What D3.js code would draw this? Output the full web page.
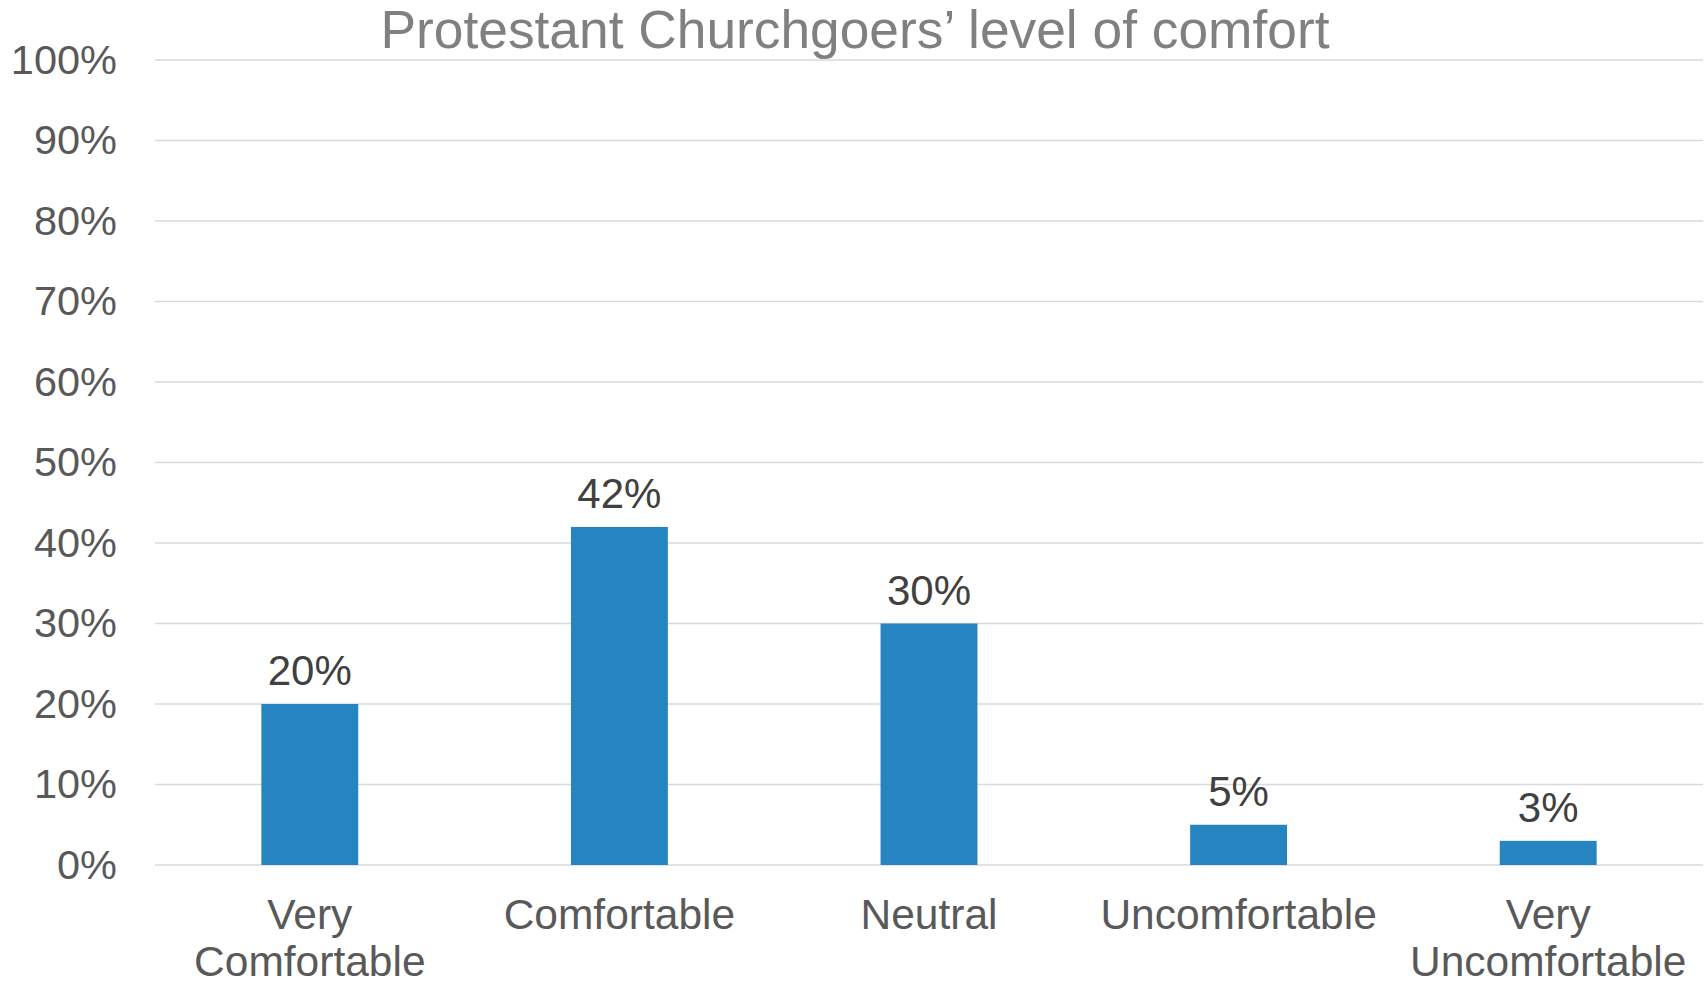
<!DOCTYPE html>
<html>
<head>
<meta charset="utf-8">
<script src="https://cdn.jsdelivr.net/npm/d3@7"></script>
<style>
  html, body { margin: 0; padding: 0; background: #fff; }
  svg { display: block; font-family: "Liberation Sans", Arial, sans-serif; }
</style>
</head>
<body>
<script>
// Survey categories and share of respondents (percent)
const categories = ["Very Comfortable", "Comfortable", "Neutral", "Uncomfortable", "Very Uncomfortable"];
const categoryLines = [["Very", "Comfortable"], ["Comfortable"], ["Neutral"], ["Uncomfortable"], ["Very", "Uncomfortable"]];
const values = [20, 42, 30, 5, 3];
const yTicks = [0, 10, 20, 30, 40, 50, 60, 70, 80, 90, 100];
const title = "Protestant Churchgoers\u2019 level of comfort";

const width = 1708, height = 983;
const margin = { top: 60, right: 5, bottom: 118, left: 155 };

const svg = d3.select("body").append("svg")
  .attr("width", width)
  .attr("height", height);

const x = d3.scaleBand()
  .domain(categories)
  .range([margin.left, width - margin.right])
  .paddingInner(0.687)
  .paddingOuter(0.3435);

const y = d3.scaleLinear()
  .domain([0, 100])
  .range([height - margin.bottom, margin.top]);

// Horizontal gridlines
svg.append("g")
  .selectAll("line")
  .data(yTicks)
  .join("line")
  .attr("x1", margin.left)
  .attr("x2", width - margin.right)
  .attr("y1", d => y(d))
  .attr("y2", d => y(d))
  .attr("stroke", "#d9d9d9")
  .attr("stroke-width", 1.5);

// Y axis labels
const yAxis = d3.axisLeft(y)
  .tickValues(yTicks)
  .tickFormat(d => d + "%")
  .tickSize(0)
  .tickPadding(38);

const gy = svg.append("g")
  .attr("transform", `translate(${margin.left},0)`)
  .call(yAxis);
gy.select(".domain").remove();
gy.selectAll("text")
  .attr("fill", "#595959")
  .style("font-size", "41.5px")
  .style("font-family", "'Liberation Sans', Arial, sans-serif");

// Bars
svg.append("g")
  .selectAll("rect")
  .data(values)
  .join("rect")
  .attr("x", (d, i) => x(categories[i]))
  .attr("width", x.bandwidth())
  .attr("y", d => y(d))
  .attr("height", d => y(0) - y(d))
  .attr("fill", "#2684c0");

// Value labels
svg.append("g")
  .selectAll("text")
  .data(values)
  .join("text")
  .attr("x", (d, i) => x(categories[i]) + x.bandwidth() / 2)
  .attr("y", d => y(d) - 19)
  .attr("text-anchor", "middle")
  .attr("fill", "#404040")
  .style("font-size", "42px")
  .text(d => d + "%");

// Category labels (wrapped)
const xl = svg.append("g")
  .selectAll("text")
  .data(categories)
  .join("text")
  .attr("x", d => x(d) + x.bandwidth() / 2)
  .attr("y", 929)
  .attr("text-anchor", "middle")
  .attr("fill", "#595959")
  .style("font-size", "42.5px");
xl.each(function(d, i) {
  d3.select(this).selectAll("tspan")
    .data(categoryLines[i])
    .join("tspan")
    .attr("x", x(d) + x.bandwidth() / 2)
    .attr("dy", (t, j) => j === 0 ? 0 : 47)
    .text(t => t);
});

// Title
svg.append("text")
  .attr("x", 855)
  .attr("y", 48)
  .attr("text-anchor", "middle")
  .attr("fill", "#808080")
  .style("font-size", "53.3px")
  .text(title);
</script>
</body>
</html>
